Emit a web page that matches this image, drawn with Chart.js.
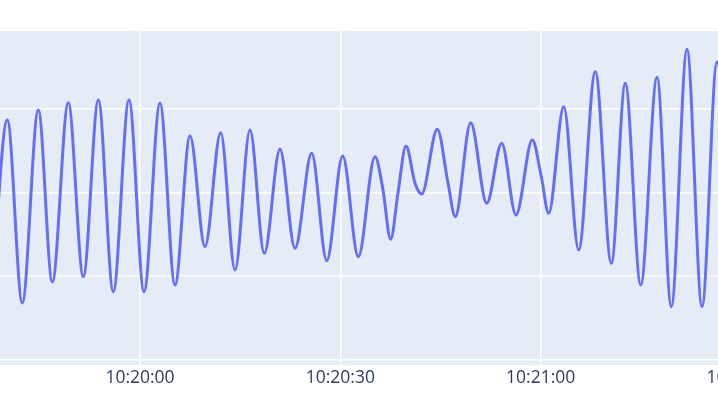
<!DOCTYPE html>
<html>
<head>
<meta charset="utf-8">
<script src="https://cdn.jsdelivr.net/npm/chart.js@4.4.1/dist/chart.umd.min.js"></script>
<style>
  html, body { margin: 0; padding: 0; overflow: hidden; background: #ffffff; width: 718px; height: 409px; }
  #wrap { position: absolute; left: -60px; top: 0; width: 868px; height: 409px; }
  canvas { display: block; }
</style>
</head>
<body>
<div id="wrap"><canvas id="c" width="868" height="409"></canvas></div>
<script>
// Time of each sample, in seconds relative to 10:20:00
const timeSec = [
  -22.16, -19.87, -17.63, -15.23, -13.13, -10.74, -8.49, -6.24, -4.00, -1.65,
  0.60, 2.99, 5.24, 7.49, 9.73, 12.08, 14.23, 16.47, 18.61, 20.96,
  23.21, 25.71, 27.96, 30.35, 32.69, 35.19, 36.34, 37.54, 38.63, 39.83,
  41.18, 42.18, 44.52, 46.12, 47.21, 49.52, 51.92, 54.16, 56.30, 58.75,
  60.05, 61.20, 63.45, 65.69, 68.18, 70.58, 72.67, 74.98, 77.42, 79.56,
  81.91, 84.16, 86.40, 88.65
];
// Signal values at those times
const signal = [
  0.834, 2.865, 0.679, 2.984, 0.930, 3.072, 0.993, 3.104, 0.814, 3.104,
  0.814, 3.065, 0.894, 2.674, 1.351, 2.713, 1.073, 2.746, 1.272, 2.515,
  1.332, 2.467, 1.184, 2.435, 1.232, 2.427, 2.053, 1.440, 1.993, 2.554,
  2.109, 1.981, 2.754, 2.112, 1.710, 2.833, 1.870, 2.587, 1.730, 2.626,
  2.208, 1.750, 3.024, 1.312, 3.442, 1.153, 3.303, 0.894, 3.375, 0.634,
  3.710, 0.634, 3.558, 0.834
];
const xTickValues = [0, 30, 60, 90];
const xTickLabels = ['10:20:00', '10:20:30', '10:21:00', '10:21:30'];
const yTickValues = [0, 1, 2, 3];

const points = timeSec.map((t, i) => ({ x: t, y: signal[i] }));

const plotBg = {
  id: 'plotBg',
  beforeDraw(chart) {
    const a = chart.chartArea, ctx = chart.ctx;
    ctx.save();
    ctx.fillStyle = '#E5ECF6';
    ctx.fillRect(a.left, a.top, a.right - a.left, a.bottom - a.top);
    ctx.restore();
  }
};

new Chart(document.getElementById('c'), {
  type: 'line',
  data: {
    datasets: [{
      data: points,
      borderColor: '#636EFA',
      borderWidth: 3,
      pointRadius: 0,
      fill: false,
      cubicInterpolationMode: 'monotone'
    }]
  },
  options: {
    responsive: false,
    animation: false,
    devicePixelRatio: 1,
    layout: { padding: { top: 31, left: 0, right: 0, bottom: 0 } },
    plugins: { legend: { display: false }, tooltip: { enabled: false } },
    scales: {
      x: {
        type: 'linear',
        min: -29.95,
        max: 100.03,
        afterBuildTicks(scale) { scale.ticks = xTickValues.map(v => ({ value: v })); },
        afterFit(scale) { scale.height = 44; },
        grid: { color: '#ffffff', lineWidth: 1.5, drawTicks: false },
        border: { display: false },
        ticks: {
          padding: 3,
          color: '#2a3f5f',
          font: { family: '"Open Sans", verdana, arial, sans-serif', size: 17.5 },
          maxRotation: 0,
          autoSkip: false,
          callback: (v, i) => xTickLabels[i]
        }
      },
      y: {
        type: 'linear',
        min: -0.062,
        max: 3.928,
        afterBuildTicks(scale) { scale.ticks = yTickValues.map(v => ({ value: v })); },
        afterFit(scale) { scale.width = 0; },
        grid: { color: '#ffffff', lineWidth: 1.5, drawTicks: false },
        border: { display: false },
        ticks: { display: false }
      }
    }
  },
  plugins: [plotBg]
});
</script>
</body>
</html>
